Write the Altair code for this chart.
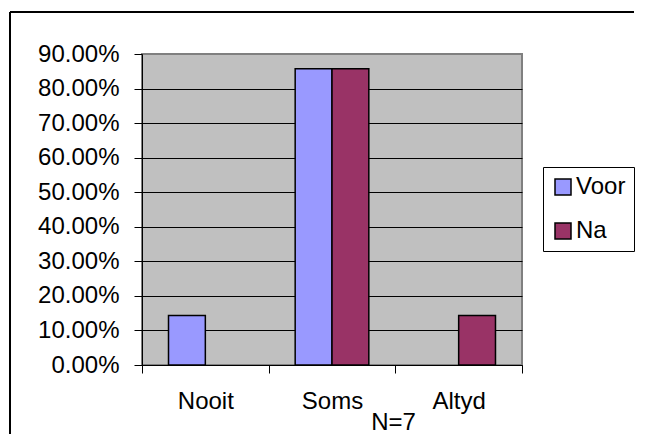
import altair as alt
import pandas as pd

categories = ["Nooit", "Soms", "Altyd"]
series = ["Voor", "Na"]
voor = [0.1429, 0.8571, 0.0]
na = [0.0, 0.8571, 0.1429]
y_ticks = [0.0, 0.1, 0.2, 0.3, 0.4, 0.5, 0.6, 0.7, 0.8, 0.9]
colors = ["#9999FF", "#993366"]
n_label = "N=7"

rows = []
for i, c in enumerate(categories):
    rows.append({"cat": c, "series": "Voor", "value": voor[i]})
    rows.append({"cat": c, "series": "Na", "value": na[i]})
df = pd.DataFrame(rows)

FONT = "Liberation Sans"
FS = 24

bars = alt.Chart(df).transform_filter("datum.value > 0").mark_bar(
    stroke="black", strokeWidth=1.5
).encode(
    x=alt.X(
        "cat:N",
        sort=categories,
        scale=alt.Scale(domain=categories, paddingInner=0, paddingOuter=0),
        axis=alt.Axis(
            title=n_label, labelAngle=0, tickBand="extent", ticks=True, tickSize=8,
            tickColor="black", tickWidth=1, domainColor="black", domainWidth=1,
            labelFont=FONT, labelFontSize=FS, labelColor="black",
            labelBaseline="alphabetic", labelPadding=35,
            titleFont=FONT, titleFontSize=FS, titleFontWeight="normal", titleColor="black",
            titleX=251, titleY=64, titleBaseline="alphabetic", titleAlign="center",
            grid=False,
        ),
    ),
    xOffset=alt.XOffset(
        "series:N", sort=series,
        scale=alt.Scale(domain=series, paddingInner=0, paddingOuter=0.72),
    ),
    y=alt.Y(
        "value:Q",
        scale=alt.Scale(domain=[0, 0.9], nice=False),
        axis=alt.Axis(
            title=None, values=y_ticks, format=".2%", tickSize=8, tickColor="black",
            domainColor="black", domainWidth=1,
            labelFont=FONT, labelFontSize=FS, labelColor="black", labelPadding=15,
            grid=True, gridWidth=1,
            gridColor={"condition": {"test": "datum.value > 0.85", "value": "#808080"}, "value": "#000000"},
        ),
    ),
    color=alt.Color(
        "series:N",
        sort=series,
        scale=alt.Scale(domain=series, range=colors),
        legend=alt.Legend(
            title=None, orient="none", legendX=401, legendY=113,
            strokeColor="black", fillColor="white", padding=8, rowPadding=20,
            symbolType="square", symbolSize=256, symbolStrokeColor="black",
            symbolStrokeWidth=1.5, symbolOpacity=1,
            labelFont=FONT, labelFontSize=FS, labelColor="black", labelOffset=1,
        ),
    ),
)

border_data = alt.Data(values=[{"k": 0}])
top_rule = alt.Chart(border_data).mark_rule(color="black", strokeWidth=2).encode(
    x=alt.value(-132), x2=alt.value(492), y=alt.value(-42)
)
left_rule = alt.Chart(border_data).mark_rule(color="black", strokeWidth=2).encode(
    x=alt.value(-132), y=alt.value(-42), y2=alt.value(380)
)

chart = alt.layer(bars, top_rule, left_rule).properties(
    width=380, height=311,
    padding={"left": 134, "top": 46, "right": 117, "bottom": 69},
    autosize="none",
    background="white",
).configure_view(
    fill="#C0C0C0", stroke="#808080", strokeWidth=2
)

chart.save("out.html", embed_options={"renderer": "svg", "actions": False})
